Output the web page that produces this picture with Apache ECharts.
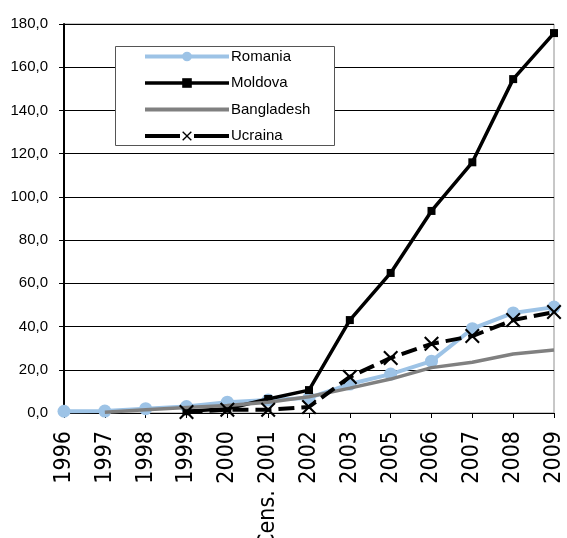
<!DOCTYPE html>
<html><head><meta charset="utf-8">
<script src="https://cdn.jsdelivr.net/npm/echarts@6/dist/echarts.min.js"></script>
<style>html,body{margin:0;padding:0;background:#fff}#c{width:567px;height:538px}</style>
</head><body><div id="c"></div>
<script>
const categories = ['1996','1997','1998','1999','2000','Cens. 2001','2002','2003','2005','2006','2007','2008','2009'];
const romania    = [0.8, 0.9, 2.0, 3.0, 5.0, 6.0, 7.0, 13.4, 18.0, 24.0, 39.0, 46.3, 49.0];
const moldova    = [null, null, null, 0.8, 2.0, 6.5, 10.6, 43.0, 64.8, 93.5, 116.0, 154.5, 175.8];
const bangladesh = [null, 0.4, 1.5, 2.5, 3.5, 5.0, 7.5, 11.5, 15.7, 21.0, 23.5, 27.3, 29.1];
const ucraina    = [null, null, null, 0.5, 1.5, 1.5, 2.8, 16.7, 25.5, 32.0, 35.6, 43.0, 46.7];
const yTicks = {min: 0, max: 180, interval: 20};

const font = '"Liberation Sans", Arial, sans-serif';
const narrow = '"Liberation Sans Narrow", "DejaVu Sans Condensed", "Liberation Sans", sans-serif';
const xPath = 'path://M0,1L1,0L5,4L9,0L10,1L6,5L10,9L9,10L5,6L1,10L0,9L4,5Z';
const chart = echarts.init(document.getElementById('c'), null, {renderer: 'canvas'});
chart.setOption({
  animation: false,
  backgroundColor: '#fff',
  grid: {left: 64, right: 13, top: 24, bottom: 125, containLabel: false, outerBoundsMode: 'none',
    show: true, borderColor: '#909090', borderWidth: 1, backgroundColor: 'transparent'},
  graphic: [{type: 'rect', left: 115, top: 46, shape: {width: 219, height: 99}, style: {fill: '#fff', stroke: '#555', lineWidth: 1}, z: 90}],
  legend: {
    orient: 'vertical', left: 143, top: 47, itemWidth: 84, itemHeight: 12, itemGap: 11.5, padding: [2, 0, 0, 0],
    textStyle: {fontFamily: font, fontSize: 15, color: '#000', padding: [0, 0, 0, -3]},
    data: [
      {name: 'Romania', lineStyle: {width: 4}},
      {name: 'Moldova', lineStyle: {width: 3.5}},
      {name: 'Bangladesh', lineStyle: {width: 4}, itemStyle: {opacity: 0}},
      {name: 'Ucraina', lineStyle: {width: 4, type: [35, 14]}}
    ], z: 100
  },
  xAxis: {
    type: 'category', data: categories, boundaryGap: false,
    axisLine: {lineStyle: {color: '#000', width: 1}},
    axisTick: {show: true, length: 5, interval: 0, lineStyle: {color: '#000'}},
    axisLabel: {rotate: 90, interval: 0, margin: 18, fontFamily: narrow, fontSize: 23, color: '#000'}
  },
  yAxis: {
    type: 'value', min: yTicks.min, max: yTicks.max, interval: yTicks.interval,
    axisLine: {show: true, lineStyle: {color: '#000', width: 2}},
    axisTick: {show: true, length: 5, lineStyle: {color: '#000'}},
    splitLine: {lineStyle: {color: '#000', width: 1}},
    axisLabel: {fontFamily: font, fontSize: 15, color: '#000', margin: 16, formatter: v => v.toFixed(1).replace('.', ',')}
  },
  series: [
    {name: 'Romania', type: 'line', data: romania, symbol: 'circle', symbolSize: 13, showSymbol: true,
      lineStyle: {color: '#9DC3E6', width: 4}, itemStyle: {color: '#9DC3E6'}, z: 2},
    {name: 'Moldova', type: 'line', data: moldova, symbol: 'rect', symbolSize: 8,
      lineStyle: {color: '#000', width: 3.5}, itemStyle: {color: '#000'}, z: 3},
    {name: 'Bangladesh', type: 'line', data: bangladesh, symbol: 'none', showSymbol: false,
      lineStyle: {color: '#808080', width: 3.5}, itemStyle: {color: '#808080'}, z: 4},
    {name: 'Ucraina', type: 'line', data: ucraina, symbol: xPath, symbolSize: 15,
      lineStyle: {color: '#000', width: 4, type: [16, 7]}, itemStyle: {color: '#000'}, z: 5}
  ]
});
</script></body></html>
